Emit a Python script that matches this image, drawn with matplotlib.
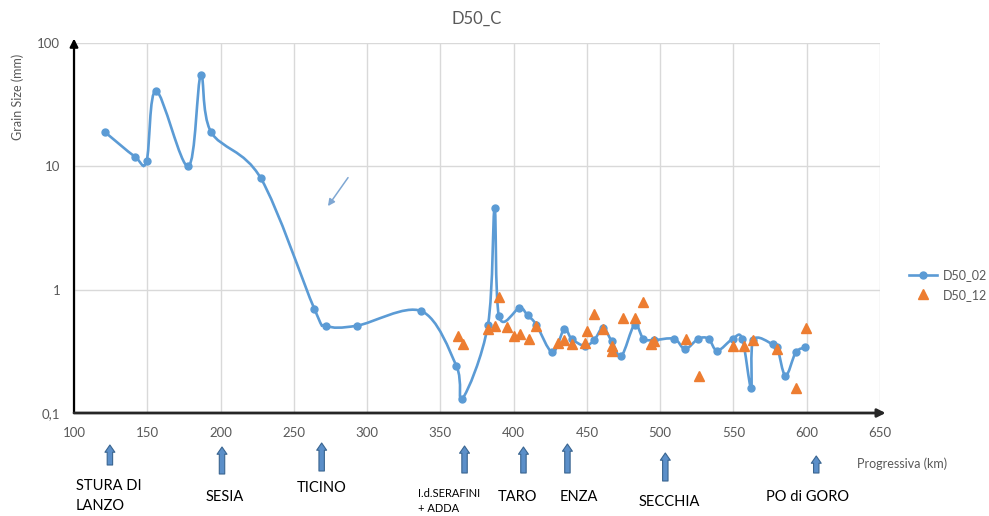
import numpy as np
import matplotlib.pyplot as plt
from matplotlib.path import Path
from matplotlib.patches import PathPatch
from matplotlib.lines import Line2D

plt.rcParams['font.family'] = ['Lato', 'DejaVu Sans']

# D50 2002 (smoothed line) - progressive km / grain size mm
km_02 = [121, 141.5, 149.5, 156, 178, 186.5, 193.5, 227.5, 264, 272, 293, 337,
         361, 365, 382.5, 387, 390, 404, 409.5, 415.5, 426.5, 434.5, 439.5, 448.5,
         455, 461, 467, 473.5, 482.5, 488.5, 495.5, 509.5, 517, 526, 533, 539,
         549.5, 556, 562, 563.5, 577, 580, 585.5, 592.5, 599]
d50_02 = [19, 12, 11, 41, 10, 55, 19, 8, 0.70, 0.51, 0.51, 0.67,
          0.24, 0.13, 0.52, 4.6, 0.61, 0.71, 0.62, 0.52, 0.31, 0.48, 0.40, 0.35,
          0.39, 0.49, 0.38, 0.29, 0.52, 0.40, 0.39, 0.40, 0.33, 0.40, 0.40, 0.32,
          0.40, 0.40, 0.16, 0.39, 0.36, 0.34, 0.20, 0.31, 0.34]

# D50 2012 (markers only)
km_12 = [362, 365.5, 382.5, 387.5, 390, 395.5, 400, 404.5, 410.5, 415.5, 430,
         434.5, 439.5, 448.5, 450, 455, 461, 467, 467, 474.5, 482.5, 488.5, 494,
         496, 517.5, 526.5, 549.5, 557, 563.5, 580, 593, 599.5]
d50_12 = [0.42, 0.36, 0.48, 0.51, 0.87, 0.50, 0.42, 0.44, 0.40, 0.51, 0.37,
          0.39, 0.36, 0.37, 0.46, 0.63, 0.48, 0.35, 0.32, 0.59, 0.59, 0.80, 0.36,
          0.38, 0.40, 0.20, 0.35, 0.35, 0.39, 0.33, 0.16, 0.49]

x_ticks = list(range(100, 651, 50))
y_ticks = [0.1, 1, 10, 100]
y_tick_labels = ['0,1', '1', '10', '100']

# tributaries (arrow km)
river_km = [124.5, 201, 269, 366.5, 406.7, 436.7, 503.5, 606.5]
river_names = ['STURA DI\nLANZO', 'SESIA', 'TICINO', 'I.d.SERAFINI\n+ ADDA',
               'TARO', 'ENZA', 'SECCHIA', 'PO di GORO']

W, H = 989, 516
fx = lambda px: px / W
fy = lambda py: 1 - py / H


def smooth_path(x, y, k=1 / 6):
    # Excel-like smoothed line: cubic bezier through the points, in (x, log y)
    px = np.asarray(x, float)
    py = np.log10(np.asarray(y, float))
    n = len(px)
    verts = [(px[0], py[0])]
    codes = [Path.MOVETO]
    for i in range(n - 1):
        a = max(i - 1, 0)
        b = min(i + 2, n - 1)
        c1 = (px[i] + k * (px[i + 1] - px[a]), py[i] + k * (py[i + 1] - py[a]))
        c2 = (px[i + 1] - k * (px[b] - px[i]), py[i + 1] - k * (py[b] - py[i]))
        verts += [c1, c2, (px[i + 1], py[i + 1])]
        codes += [Path.CURVE4] * 3
    v = np.array(verts)
    v[:, 1] = 10 ** v[:, 1]
    return Path(v, codes)


blue = '#5B9BD5'
orange = '#ED7D31'
gray = '#595959'

fig = plt.figure(figsize=(W / 100, H / 100), dpi=100)
ax = fig.add_axes([fx(74), fy(413), fx(880) - fx(74), fy(43) - fy(413)])
ax.set_yscale('log')
ax.set_xlim(100, 650)
ax.set_ylim(0.1, 100)

ax.add_patch(PathPatch(smooth_path(km_02, d50_02), fill=False, ec=blue, lw=1.9,
                       zorder=3))
ax.plot(km_02, d50_02, 'o', color=blue, ms=5, zorder=4)
ax.plot(km_12, d50_12, '^', color=orange, ms=7, zorder=5)

ax.set_xticks(x_ticks)
ax.set_xticklabels([str(t) for t in x_ticks])
ax.set_yticks(y_ticks)
ax.set_yticklabels(y_tick_labels)
ax.minorticks_off()
ax.tick_params(length=0, labelsize=9.5, colors=gray)
ax.tick_params(axis='x', pad=10)
ax.tick_params(axis='y', pad=10)
ax.grid(True, color='#D9D9D9', lw=1)
ax.set_axisbelow(True)
for s in ax.spines.values():
    s.set_visible(False)

# axes with arrow heads
ax.annotate('', xy=(0, 1.012), xytext=(0, 0), xycoords='axes fraction',
            arrowprops=dict(arrowstyle='-|>', color='black', lw=1.6,
                            mutation_scale=12, shrinkA=0, shrinkB=0))
ax.annotate('', xy=(1.007, 0), xytext=(0, 0), xycoords='axes fraction',
            arrowprops=dict(arrowstyle='-|>', color='#262626', lw=2,
                            mutation_scale=12, shrinkA=0, shrinkB=0))

# small arrow inside the plot
ax.annotate('', xy=(273.3, 4.76), xytext=(287, 8.1),
            arrowprops=dict(arrowstyle='-|>', color='#7FA7D3', lw=1.1,
                            mutation_scale=10, shrinkA=0, shrinkB=0))

ax.set_title('D50_C', fontsize=12, color=gray, pad=14)
fig.text(fx(18), fy(97), 'Grain Size (mm)', rotation=90, ha='center',
         va='center', fontsize=9, color=gray)
fig.text(fx(857), fy(464), 'Progressiva (km)', ha='left', va='center',
         fontsize=9, color=gray)

# tributary arrows below the axis
arrow_top = [445, 447, 443, 446, 447, 444, 453, 456]
arrow_bot = [465, 474, 471, 473, 473, 473, 481, 473]
for k, t, b in zip(river_km, arrow_top, arrow_bot):
    ax.annotate('', xy=(k, fy(t)), xytext=(k, fy(b)),
                xycoords=('data', 'figure fraction'), annotation_clip=False,
                arrowprops=dict(arrowstyle='simple,head_length=0.4,head_width=0.55,tail_width=0.3',
                                fc='#5B8FC9', ec='#3A6590', lw=0.8,
                                mutation_scale=13, shrinkA=0, shrinkB=0))

label_pos = [(76, 496, 'left'), (225, 497, 'center'), (322, 488, 'center'),
             (418, 501, 'left'), (518, 497, 'center'), (579, 497, 'center'),
             (669, 502, 'center'), (808, 497, 'center')]
for name, (px, py, ha) in zip(river_names, label_pos):
    small = 'SERAFINI' in name
    fig.text(fx(px), fy(py), name, ha=ha, va='center',
             fontsize=8 if small else 10.5, color='black',
             linespacing=1.4 if small else 1.6)

handles = [Line2D([], [], color=blue, lw=1.9, marker='o', ms=5),
           Line2D([], [], color=orange, lw=0, marker='^', ms=7)]
fig.legend(handles, ['D50_02', 'D50_12'], loc='upper left',
           bbox_to_anchor=(fx(898), fy(258)), frameon=False, fontsize=9,
           labelcolor=gray, handlelength=2.2, handletextpad=0.5,
           labelspacing=0.6)

fig.savefig('out.png', dpi=100)
